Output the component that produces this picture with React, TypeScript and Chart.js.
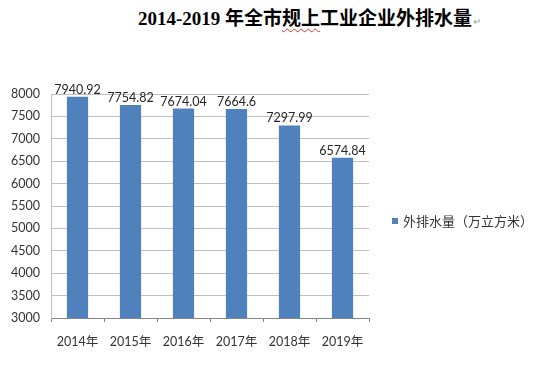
import React, { useEffect, useRef } from "react";
import { Chart, registerables } from "chart.js";

Chart.register(...registerables);

const categories = ["2014年", "2015年", "2016年", "2017年", "2018年", "2019年"];
const values = [7940.92, 7754.82, 7674.04, 7664.6, 7297.99, 6574.84];
const seriesLabel = "外排水量（万立方米）";
const yMin = 3000;
const yMax = 8000;
const yStep = 500;

const BAR = "#4F81BD";
const TEXT = "#333333";
const FONT = "Lato, 'Noto Sans CJK SC', sans-serif";

const dataLabels = {
  id: "dataLabels",
  afterDatasetsDraw(chart: any) {
    const ctx = chart.ctx;
    ctx.save();
    ctx.font = "12.5px " + FONT;
    ctx.fillStyle = "#262626";
    ctx.textAlign = "center";
    ctx.textBaseline = "alphabetic";
    chart.data.datasets.forEach((ds: any, di: number) => {
      const meta = chart.getDatasetMeta(di);
      meta.data.forEach((el: any, i: number) => {
        ctx.fillText(String(ds.data[i]), el.x, el.y - 3);
      });
    });
    ctx.restore();
  },
};

const sideLegend = {
  id: "sideLegend",
  afterDraw(chart: any) {
    const ctx = chart.ctx;
    const ds = chart.data.datasets[0];
    ctx.save();
    ctx.fillStyle = ds.backgroundColor;
    ctx.fillRect(392, 218, 6, 6);
    ctx.font = "13px 'Noto Sans CJK SC', sans-serif";
    ctx.fillStyle = TEXT;
    ctx.textAlign = "left";
    ctx.textBaseline = "middle";
    ctx.fillText(ds.label, 403, 221);
    ctx.restore();
  },
};

export default function App() {
  const ref = useRef<HTMLCanvasElement | null>(null);
  useEffect(() => {
    if (!ref.current) return;
    const chart = new Chart(ref.current, {
      type: "bar",
      data: {
        labels: categories,
        datasets: [
          {
            label: seriesLabel,
            data: values,
            backgroundColor: BAR,
            barPercentage: 0.8,
            categoryPercentage: 0.5,
          },
        ],
      },
      options: {
        animation: false,
        responsive: false,
        layout: { padding: { left: 0, right: 182, top: 94, bottom: 0 } },
        plugins: { legend: { display: false }, tooltip: { enabled: false }, title: { display: false } },
        scales: {
          x: {
            grid: { drawOnChartArea: false, drawTicks: true, tickLength: 4, color: "#868686", offset: true },
            border: { display: true, color: "#868686" },
            ticks: { color: TEXT, font: { family: FONT, size: 12.5 }, padding: 12, maxRotation: 0 },
            afterFit: (s: any) => { s.height = 71; },
          },
          y: {
            min: yMin,
            max: yMax,
            grid: { drawTicks: false, color: "#c0c0c0" },
            border: { display: true, color: "#c0c0c0" },
            ticks: {
              stepSize: yStep,
              color: TEXT,
              font: { family: FONT, size: 12.5 },
              padding: 11,
              callback: (v: any) => String(v),
            },
            afterFit: (s: any) => { s.width = 51; },
          },
        },
      },
      plugins: [dataLabels, sideLegend],
    });
    return () => chart.destroy();
  }, []);

  return (
    <div style={{ position: "fixed", left: 0, top: 0, width: 551, height: 389, background: "#fff" }}>
      <div
        style={{
          position: "absolute",
          left: 138,
          top: 6,
          whiteSpace: "nowrap",
          fontFamily: "'Liberation Serif', 'Noto Sans CJK SC', serif",
          fontWeight: "bold",
          fontSize: 19,
          lineHeight: "26px",
          color: "#000",
        }}
      >
        2014-2019 年全市
        <span style={{ textDecoration: "underline wavy #e03030", textDecorationThickness: "1px", textUnderlineOffset: "3px" }}>规上</span>
        工业企业外排水量
        <span style={{ fontSize: 10, fontWeight: "normal", color: "#a0a0a0", marginLeft: 1 }}>↵</span>
      </div>
      <canvas ref={ref} width={551} height={389} style={{ position: "absolute", left: 0, top: 0 }} />
    </div>
  );
}
